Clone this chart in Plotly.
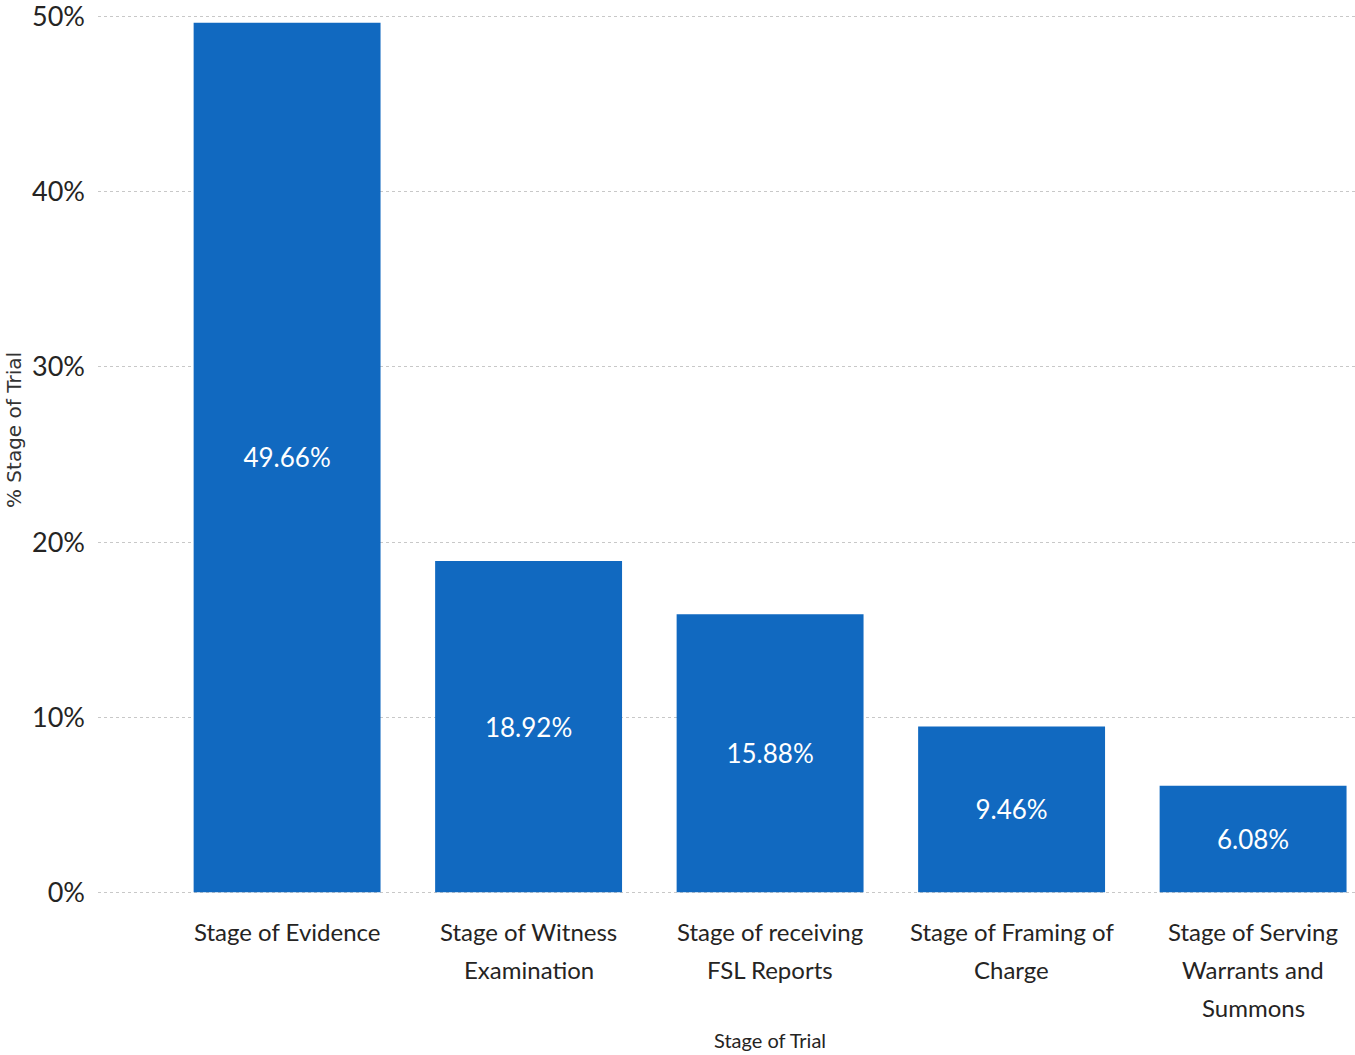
import plotly.graph_objects as go

categories = ["Stage of Evidence", "Stage of Witness Examination", "Stage of receiving FSL Reports",
              "Stage of Framing of Charge", "Stage of Serving Warrants and Summons"]
category_lines = [["Stage of Evidence"],
                  ["Stage of Witness", "Examination"],
                  ["Stage of receiving", "FSL Reports"],
                  ["Stage of Framing of", "Charge"],
                  ["Stage of Serving", "Warrants and", "Summons"]]
values = [49.66, 18.92, 15.88, 9.46, 6.08]
labels = ["49.66%", "18.92%", "15.88%", "9.46%", "6.08%"]
yticks = [0, 10, 20, 30, 40, 50]
ytick_text = ["0%", "10%", "20%", "30%", "40%", "50%"]

W, H = 1355, 1055
L, R, T, B = 98, 0, 15, 161
FONT = "Lato"
PH = H - T - B


def py(page_y):
    """page pixel y -> paper coordinate"""
    return (H - B - page_y) / PH


fig = go.Figure(go.Bar(
    x=list(range(len(categories))), y=values, text=labels,
    textposition="inside", insidetextanchor="middle",
    textfont=dict(family=FONT, size=26, color="white"),
    marker=dict(color="#1169C0", line=dict(width=0)),
    width=0.774, hovertext=categories,
))

annotations = []
for i, lines in enumerate(category_lines):
    for j, line in enumerate(lines):
        annotations.append(dict(text=line, xref="x", yref="paper", x=i, y=py(931 + 38 * j),
                                showarrow=False, xanchor="center", yanchor="middle",
                                font=dict(family=FONT, size=24, color="#252423")))
annotations.append(dict(text="% Stage of Trial", xref="paper", yref="paper",
                        x=(14 - L) / (W - L - R), y=py(430),
                        textangle=-90, showarrow=False, xanchor="center", yanchor="middle",
                        font=dict(family="DejaVu Sans", size=20, color="#333333")))
annotations.append(dict(text="Stage of Trial", xref="x", yref="paper", x=2, y=py(1040),
                        showarrow=False, xanchor="center", yanchor="middle",
                        font=dict(family=FONT, size=20, color="#252423")))

fig.update_layout(
    width=W, height=H, margin=dict(l=L, r=R, t=T, b=B, autoexpand=False),
    paper_bgcolor="white", plot_bgcolor="white", showlegend=False,
    xaxis=dict(range=[-0.783, 4.422], tickvals=list(range(len(categories))), automargin=False,
               showticklabels=False, showgrid=False, zeroline=False, showline=False, ticks=""),
    yaxis=dict(range=[-0.1, 50.1], tickvals=yticks, ticktext=ytick_text, automargin=False,
               showgrid=True, gridcolor="#c8c8c8", griddash="dot", gridwidth=1,
               zeroline=False, showline=False, ticks="", ticklabeloverflow="allow",
               tickfont=dict(family=FONT, size=27, color="#252423"), ticklabelstandoff=12),
    annotations=annotations,
)

fig.write_html("out.html", config={"displayModeBar": False},
               post_script="document.body.style.margin='0';document.body.style.overflow='hidden';")
